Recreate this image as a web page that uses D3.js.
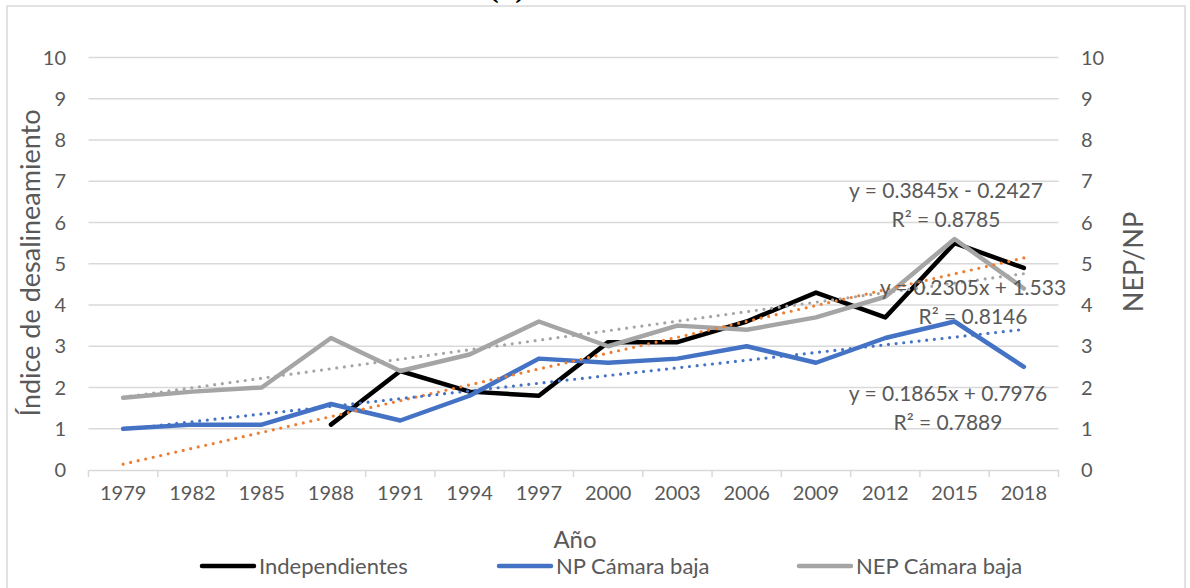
<!DOCTYPE html>
<html>
<head>
<meta charset="utf-8">
<script src="https://cdn.jsdelivr.net/npm/d3@7"></script>
<style>
    body { margin: 0; background: #fff; }
    text { font-family: Lato, "Open Sans", sans-serif; }
</style>
</head>
<body>
<div id="svgContainer"></div>
<script>
// data
const years = ["1979", "1982", "1985", "1988", "1991", "1994", "1997",
               "2000", "2003", "2006", "2009", "2012", "2015", "2018"];
const independientes = [null, null, null, 1.1, 2.4, 1.9, 1.8, 3.1, 3.1, 3.6, 4.3, 3.7, 5.5, 4.9];
const npCamara = [1.0, 1.1, 1.1, 1.6, 1.2, 1.8, 2.7, 2.6, 2.7, 3.0, 2.6, 3.2, 3.6, 2.5];
const nepCamara = [1.75, 1.9, 2.0, 3.2, 2.4, 2.8, 3.6, 3.0, 3.5, 3.4, 3.7, 4.2, 5.6, 4.4];
const seriesNames = ["Independientes", "NP Cámara baja", "NEP Cámara baja"];

// linear trendlines as printed on the chart (x = 1..14)
const trendSlope = [0.3845, 0.1865, 0.2305];
const trendIntercept = [-0.2427, 0.7976, 1.533];
const trendR2 = ["0.8785", "0.7889", "0.8146"];
const yTicks = [0, 1, 2, 3, 4, 5, 6, 7, 8, 9, 10];

var width = 1190, height = 588;

var svg = d3.select("#svgContainer").append("svg")
    .attr("width", width)
    .attr("height", height)
    .style("display", "block");

// chart border
svg.append("rect")
    .attr("x", 7).attr("y", 6)
    .attr("width", 1178).attr("height", 600)
    .attr("fill", "#fff")
    .attr("stroke", "#d9d9d9")
    .attr("stroke-width", 1.5);

// panel label, cut off at the top as in the source
svg.append("text")
    .attr("x", 507).attr("y", -3)
    .attr("text-anchor", "middle")
    .style("font-family", "'Liberation Serif', serif")
    .attr("font-weight", "bold")
    .attr("font-size", 30)
    .text("(b)");

var x = d3.scaleBand().domain(years).range([88.5, 1058.5]);
var y = d3.scaleLinear().domain([0, 10]).range([470, 57.5]);
var cx = i => x(years[i]) + x.bandwidth() / 2;

// gridlines
svg.append("g")
    .selectAll("line")
    .data(yTicks.slice(1))
    .enter().append("line")
    .attr("x1", 88.5).attr("x2", 1058.5)
    .attr("y1", d => y(d)).attr("y2", d => y(d))
    .attr("stroke", "#d9d9d9")
    .attr("stroke-width", 1.5);

// x axis
var xAxis = svg.append("g")
    .attr("transform", "translate(0," + y(0) + ")")
    .call(d3.axisBottom(x).tickSize(0).tickPadding(30));
xAxis.select(".domain").attr("stroke", "#d9d9d9").attr("stroke-width", 1.5);
xAxis.selectAll("text")
    .attr("fill", "#595959")
    .attr("font-size", 20)
    .attr("dy", 0);
xAxis.append("g")
    .selectAll("line")
    .data(d3.range(years.length + 1))
    .enter().append("line")
    .attr("x1", d => 88.5 + d * x.step()).attr("x2", d => 88.5 + d * x.step())
    .attr("y1", 0).attr("y2", 7)
    .attr("stroke", "#d9d9d9")
    .attr("stroke-width", 1.5);

// left and right tick labels
svg.append("g")
    .selectAll("text")
    .data(yTicks)
    .enter().append("text")
    .attr("x", 66)
    .attr("y", d => y(d) + 7)
    .attr("text-anchor", "end")
    .attr("fill", "#595959")
    .attr("font-size", 20)
    .text(d => d);

svg.append("g")
    .selectAll("text")
    .data(yTicks)
    .enter().append("text")
    .attr("x", 1081)
    .attr("y", d => y(d) + 7)
    .attr("fill", "#595959")
    .attr("font-size", 20)
    .text(d => d);

// axis titles
svg.append("text")
    .attr("transform", "translate(40,263) rotate(-90)")
    .attr("text-anchor", "middle")
    .attr("fill", "#595959")
    .attr("font-size", 27)
    .text("Índice de desalineamiento");

svg.append("text")
    .attr("transform", "translate(1143,262) rotate(-90)")
    .attr("text-anchor", "middle")
    .attr("fill", "#595959")
    .attr("font-size", 27)
    .text("NEP/NP");

svg.append("text")
    .attr("x", 575).attr("y", 548)
    .attr("text-anchor", "middle")
    .attr("fill", "#595959")
    .attr("font-size", 24)
    .text("Año");

// series
var colors = ["#000000", "#4472c4", "#a5a5a5"];
var trendColors = ["#ed7d31", "#4472c4", "#a5a5a5"];
var allSeries = [independientes, npCamara, nepCamara];

var line = d3.line()
    .defined(d => d != null)
    .x((d, i) => cx(i))
    .y(d => y(d));

svg.append("g")
    .selectAll("path")
    .data(allSeries)
    .enter().append("path")
    .attr("d", d => line(d))
    .attr("fill", "none")
    .attr("stroke", (d, i) => colors[i])
    .attr("stroke-width", 4.5)
    .attr("stroke-linejoin", "round")
    .attr("stroke-linecap", "round");

// trendlines
svg.append("g")
    .selectAll("line")
    .data(trendSlope)
    .enter().append("line")
    .attr("x1", cx(0)).attr("x2", cx(years.length - 1))
    .attr("y1", (d, i) => y(d * 1 + trendIntercept[i]))
    .attr("y2", (d, i) => y(d * years.length + trendIntercept[i]))
    .attr("stroke", (d, i) => trendColors[i])
    .attr("stroke-width", 3.2)
    .attr("stroke-linecap", "round")
    .attr("stroke-dasharray", "0 7.7");

// trendline labels
var labelPos = [[946, 198], [948, 401], [973, 295]];
var fmt = v => (v < 0 ? " - " : " + ") + Math.abs(v);
var labels = svg.append("g");
trendSlope.forEach((s, i) => {
    labels.append("text")
        .attr("x", labelPos[i][0]).attr("y", labelPos[i][1])
        .attr("text-anchor", "middle")
        .attr("fill", "#595959")
        .attr("font-size", 21)
        .text("y = " + s + "x" + fmt(trendIntercept[i]));
    labels.append("text")
        .attr("x", labelPos[i][0]).attr("y", labelPos[i][1] + 29)
        .attr("text-anchor", "middle")
        .attr("fill", "#595959")
        .attr("font-size", 21)
        .text("R² = " + trendR2[i]);
});

// legend
var legendX = [200, 497, 797];
var legend = svg.append("g")
    .selectAll("g")
    .data(seriesNames)
    .enter().append("g")
    .attr("transform", (d, i) => "translate(" + legendX[i] + ",566)");
legend.append("line")
    .attr("x1", 2).attr("x2", 54)
    .attr("stroke", (d, i) => colors[i])
    .attr("stroke-width", 4.5)
    .attr("stroke-linecap", "round");
legend.append("text")
    .attr("x", 59).attr("y", 8)
    .attr("fill", "#595959")
    .attr("font-size", 22)
    .text(d => d);
</script>
</body>
</html>
